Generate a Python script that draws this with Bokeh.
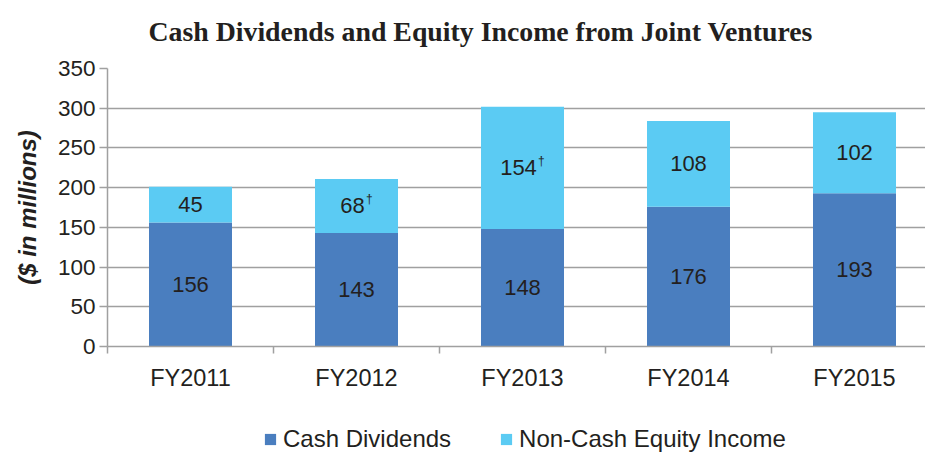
from bokeh.plotting import figure
from bokeh.layouts import column
from bokeh.models import (ColumnDataSource, FixedTicker, Legend, LegendItem, Range1d, Label)
from bokeh.core.properties import value
from bokeh.embed import file_html
from bokeh.resources import INLINE

title_text = "Cash Dividends and Equity Income from Joint Ventures"
categories = ["FY2011", "FY2012", "FY2013", "FY2014", "FY2015"]
cash_dividends = [156, 143, 148, 176, 193]
non_cash_income = [45, 68, 154, 108, 102]
non_cash_dagger = [False, True, True, False, False]
y_ticks = [0, 50, 100, 150, 200, 250, 300, 350]
series_names = ["Cash Dividends", "Non-Cash Equity Income"]

DARK = "#4a7ebf"
LIGHT = "#5bcbf3"
TXT = "#231f20"
GRID = "#a0a0a0"
FONT = "Liberation Sans"

n = len(categories)
xs = [i + 0.5 for i in range(n)]
tops = [c + nc for c, nc in zip(cash_dividends, non_cash_income)]

src = ColumnDataSource(dict(
    x=xs,
    cash=cash_dividends,
    noncash=non_cash_income,
    total=tops,
    cash_mid=[c / 2 for c in cash_dividends],
    nc_mid=[c + nc / 2 for c, nc in zip(cash_dividends, non_cash_income)],
    cash_lbl=[str(v) for v in cash_dividends],
    nc_lbl=[str(v) for v in non_cash_income],
    nc_off=[-4 if d else 0 for d in non_cash_dagger],
    dag=["\u2020" if d else "" for d in non_cash_dagger],
    dag_off=[len(str(v)) * 6.2 - 3 for v in non_cash_income],
))

W, H = 925, 453
TITLE_H = 56
FRAME_TOP = 68
LEG_H = 53
left = 107
x_end = (W - left) / 166.0


def strip(height, xr, yr):
    s = figure(width=W, height=height, output_backend="svg", toolbar_location=None,
               x_axis_type=None, y_axis_type=None, x_range=xr, y_range=yr,
               min_border_left=left, min_border_right=0,
               min_border_top=0, min_border_bottom=0)
    s.outline_line_color = None
    s.grid.grid_line_color = None
    return s


# title strip
t = strip(TITLE_H, Range1d(0, 1), Range1d(0, 1))
t.add_layout(Label(x=41, y=TITLE_H - 31, x_units="screen", y_units="screen", text=title_text,
                   text_font="Liberation Serif", text_font_size="27.8px",
                   text_font_style="bold", text_color=TXT,
                   text_align="left", text_baseline="alphabetic"))

# main chart
p = figure(width=W, height=H - LEG_H - TITLE_H, output_backend="svg", toolbar_location=None,
           x_range=Range1d(0, x_end), y_range=Range1d(0, 350),
           min_border_left=left, min_border_right=0, min_border_top=FRAME_TOP - TITLE_H,
           min_border_bottom=54)
p.outline_line_color = None
p.background_fill_color = "white"
p.border_fill_color = "white"

p.vbar(x="x", width=0.5, bottom=0, top="cash", source=src,
       fill_color=DARK, line_color=None)
p.vbar(x="x", width=0.5, bottom="cash", top="total", source=src,
       fill_color=LIGHT, line_color=None)

p.text(x="x", y="cash_mid", text="cash_lbl", source=src,
       text_align="center", text_baseline="middle",
       text_font=value(FONT), text_font_size="22px", text_color=TXT)
p.text(x="x", y="nc_mid", text="nc_lbl", source=src, x_offset="nc_off",
       text_align="center", text_baseline="middle",
       text_font=value(FONT), text_font_size="22px", text_color=TXT)
p.text(x="x", y="nc_mid", text="dag", source=src, x_offset="dag_off", y_offset=-7,
       text_align="left", text_baseline="middle",
       text_font=value(FONT), text_font_size="12px", text_color=TXT)

xa = p.xaxis[0]
xa.ticker = FixedTicker(ticks=xs, minor_ticks=list(range(n + 1)))
xa.major_label_overrides = {x: c for x, c in zip(xs, categories)}
xa.major_tick_line_color = None
xa.minor_tick_in = 0
xa.minor_tick_out = 7
xa.minor_tick_line_color = GRID
xa.minor_tick_line_width = 1.5
xa.axis_line_color = GRID
xa.axis_line_width = 1.5
xa.major_label_text_font = FONT
xa.major_label_text_font_size = "23.5px"
xa.major_label_text_color = TXT
xa.major_label_standoff = 11

ya = p.yaxis[0]
ya.ticker = FixedTicker(ticks=y_ticks)
ya.minor_tick_line_color = None
ya.major_tick_in = 0
ya.major_tick_out = 8
ya.major_tick_line_color = GRID
ya.major_tick_line_width = 1.5
ya.axis_line_color = GRID
ya.axis_line_width = 1.5
ya.major_label_text_font = FONT
ya.major_label_text_font_size = "22.5px"
ya.major_label_text_color = TXT
ya.major_label_standoff = 4
ya.axis_label = "($ in millions)"
ya.axis_label_text_font = FONT
ya.axis_label_text_font_size = "24px"
ya.axis_label_text_font_style = "bold italic"
ya.axis_label_text_color = TXT
ya.axis_label_standoff = 14

p.xgrid.grid_line_color = None
p.ygrid.grid_line_color = GRID
p.ygrid.grid_line_width = 1.5
p.ygrid.ticker = FixedTicker(ticks=y_ticks)

# legend strip: its ranges keep the bars out of view, only the swatches show
q = strip(LEG_H, Range1d(-3, -2), Range1d(-3, -2))
g1 = q.vbar(x="x", width=0.5, bottom="cash", top="total", source=src,
            fill_color=DARK, line_color=None)
g2 = q.vbar(x="x", width=0.5, bottom="cash", top="total", source=src,
            fill_color=LIGHT, line_color=None)
legend = Legend(items=[LegendItem(label=series_names[0], renderers=[g1]),
                       LegendItem(label=series_names[1], renderers=[g2])],
                location=(156, 0), orientation="horizontal",
                border_line_color=None, background_fill_alpha=0,
                padding=0, margin=0, spacing=48, label_standoff=6,
                glyph_width=14, glyph_height=14,
                label_text_font=FONT, label_text_font_size="24px",
                label_text_color=TXT)
q.add_layout(legend, "center")

layout = column(t, p, q, spacing=0)
open("out.html", "w").write(file_html(layout, INLINE))
